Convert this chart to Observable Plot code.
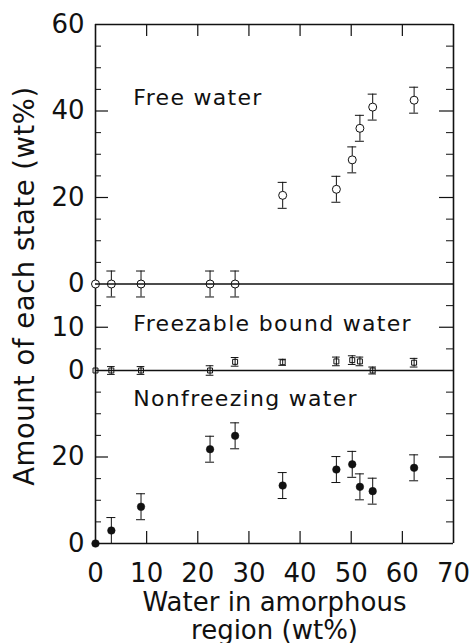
<!DOCTYPE html>
<html><head><meta charset="utf-8">
<script src="https://cdn.jsdelivr.net/npm/d3@7"></script>
<script src="https://cdn.jsdelivr.net/npm/@observablehq/plot@0.6"></script>
<style>
body{margin:0;background:#fff}
</style>
</head><body><div id="chart"></div>
<script>
// ---- data ----
const waterX = [0, 3.1, 8.9, 22.4, 27.3, 36.6, 47.1, 50.2, 51.7, 54.2, 62.3];
const freeWater = [0, 0, 0, 0, 0, 20.5, 21.9, 28.7, 36.0, 40.9, 42.5];
const freeErr = [0, 3, 3, 3, 3, 3, 3, 3, 3, 3, 3];
const freezableWater = [0, 0, 0, 0, 2.0, 1.9, 2.1, 2.4, 2.1, 0, 1.8];
const freezableErr = [0, 0.9, 0.9, 1.1, 1.0, 0.7, 1.0, 1.0, 1.0, 0.8, 1.0];
const nonfreezingWater = [0, 3.0, 8.5, 21.8, 24.9, 13.4, 17.1, 18.3, 13.1, 12.1, 17.5];
const nonfreezingErr = [0, 3, 3, 3, 3, 3, 3, 3, 3, 3, 3];

// panels from bottom to top
const panelNames = ["Nonfreezing water", "Freezable bound water", "Free water"];
const panelSpans = [40, 20, 60];
const panelTickLabels = [[0, 20], [0, 10], [0, 20, 40, 60]];
const xTicks = [0, 10, 20, 30, 40, 50, 60, 70];
const xLabel = "Water in amorphous\nregion (wt%)";
const yLabel = "Amount of each state (wt%)";

// ---- layout ----
const W = 470, H = 643, mL = 95, mR = 17, mT = 24, mB = 100;
const plotW = W - mL - mR, plotH = H - mT - mB;
const panelLabelX = 7.4;
const panelLabelY = [31.7, 49.1, 101.5];

const offsets = panelSpans.map((s, i) => d3.sum(panelSpans.slice(0, i)));
const total = d3.sum(panelSpans);
const xMax = xTicks[xTicks.length - 1];

function rows(vals, errs, off) {
  return waterX.map((x, i) => ({x, y: off + vals[i], e: errs[i]}));
}
const nonRows = rows(nonfreezingWater, nonfreezingErr, offsets[0]);
const frzRows = rows(freezableWater, freezableErr, offsets[1]);
const freeRows = rows(freeWater, freeErr, offsets[2]);

// y tick labels (per panel) and inward tick marks every 5 units
const yTickMap = new Map();
const majorTicks = [], minorTicks = [];
panelTickLabels.forEach((ts, i) => {
  ts.forEach(v => yTickMap.set(offsets[i] + v, String(v)));
  for (let v = 5; v < panelSpans[i]; v += 5) {
    (ts.includes(v) ? majorTicks : minorTicks).push(offsets[i] + v);
  }
});

function errMarks(data, cap) {
  const d = data.filter(r => r.e > 0);
  return [
    Plot.ruleX(d, {x: "x", y1: r => r.y - r.e, y2: r => r.y + r.e, stroke: "#111", strokeWidth: 1}),
    Plot.ruleY(d, {y: r => r.y + r.e, x1: r => r.x - cap, x2: r => r.x + cap, stroke: "#111", strokeWidth: 1}),
    Plot.ruleY(d, {y: r => r.y - r.e, x1: r => r.x - cap, x2: r => r.x + cap, stroke: "#111", strokeWidth: 1})
  ];
}

const chart = Plot.plot({
  width: W, height: H,
  marginLeft: mL, marginRight: mR, marginTop: mT, marginBottom: mB,
  style: {fontFamily: "DejaVu Sans", background: "#fff", color: "#111"},
  x: {domain: [0, xMax]},
  y: {domain: [0, total]},
  marks: [
    Plot.axisX({ticks: xTicks, tickSize: 0, tickPadding: 20, fontSize: 26, label: null, tickFormat: d => String(d)}),
    Plot.axisY({ticks: [...yTickMap.keys()], tickSize: 0, tickPadding: 11, fontSize: 26, label: null, tickFormat: d => yTickMap.get(d)}),
    // frame sides
    Plot.ruleX([0, xMax], {stroke: "#111", strokeWidth: 1.6}),
    // inward ticks
    Plot.tickY(majorTicks, {y: d => d, insetRight: plotW - 13, stroke: "#111", strokeWidth: 1.2}),
    Plot.tickY(majorTicks, {y: d => d, insetLeft: plotW - 14, stroke: "#111", strokeWidth: 1.2}),
    Plot.tickY(minorTicks, {y: d => d, insetRight: plotW - 6, stroke: "#111", strokeWidth: 1}),
    Plot.tickY(minorTicks, {y: d => d, insetLeft: plotW - 7, stroke: "#111", strokeWidth: 1}),
    Plot.tickX(xTicks.slice(1, -1), {x: d => d, insetTop: plotH - 12, stroke: "#111", strokeWidth: 1.2}),
    Plot.tickX(xTicks.slice(1, -1), {x: d => d, insetBottom: plotH - 12, stroke: "#111", strokeWidth: 1.2}),
    // error bars
    ...errMarks(freeRows, 0.88),
    ...errMarks(frzRows, 0.75),
    ...errMarks(nonRows, 0.88),
    // points
    Plot.dot(freeRows, {x: "x", y: "y", r: 4, fill: "#fff", stroke: "#111", strokeWidth: 1}),
    Plot.dot(frzRows, {x: "x", y: "y", r: 2.8, symbol: "square", fill: "none", stroke: "#111", strokeWidth: 1}),
    Plot.dot(nonRows, {x: "x", y: "y", r: 3.8, fill: "#111", stroke: "#111", strokeWidth: 0.5}),
    // horizontal lines: bottom frame, panel baselines, top frame
    Plot.ruleY([0, offsets[1], offsets[2], total], {stroke: "#111", strokeWidth: 1.6}),
    // panel labels
    Plot.text(panelNames, {x: panelLabelX, y: (d, i) => panelLabelY[i], text: d => d, textAnchor: "start", lineAnchor: "bottom", fontSize: 22, fill: "#111"}),
    // axis titles
    Plot.text([yLabel], {frameAnchor: "left", text: d => d, rotate: -90, dx: -62, dy: 2, lineAnchor: "bottom", textAnchor: "middle", fontSize: 27.5, fill: "#111"}),
    Plot.text([xLabel], {frameAnchor: "bottom", text: d => d, dy: 95, lineAnchor: "bottom", lineHeight: 1.06, textAnchor: "middle", fontSize: 26, fill: "#111"})
  ]
});
// widen letter spacing to approximate the reference's wide typeface
d3.select(chart).selectAll("text")
  .filter(function() { return panelNames.includes(this.textContent); })
  .attr("letter-spacing", "1.3px");
d3.select(chart).selectAll("text")
  .filter(function() { return this.textContent === yLabel; })
  .attr("letter-spacing", "0.5px");
document.getElementById("chart").appendChild(chart);
</script>
</body></html>
